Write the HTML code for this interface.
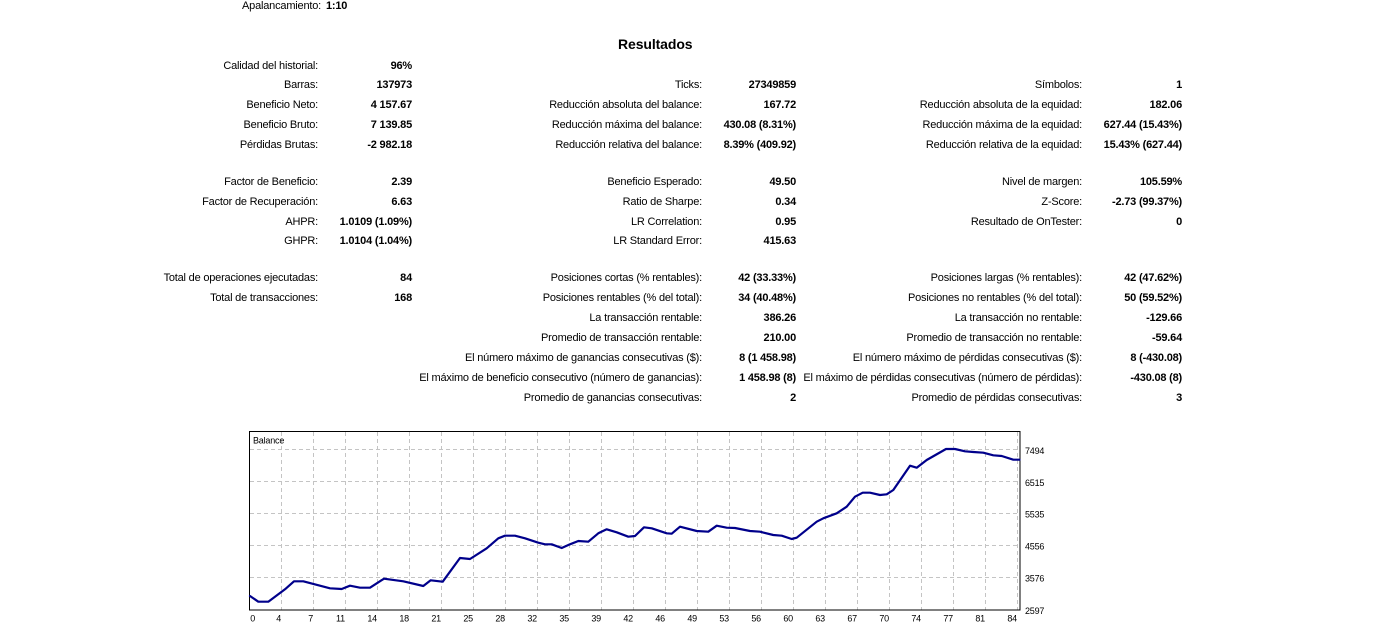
<!DOCTYPE html>
<html>
<head>
<meta charset="utf-8">
<style>
  html,body{margin:0;padding:0;background:#fff;}
  body{width:1392px;height:637px;position:relative;overflow:hidden;
       font-family:"Liberation Sans",Arial,sans-serif;font-size:11px;color:#000;letter-spacing:-0.2px;}
  .l,.v{position:absolute;white-space:nowrap;line-height:13px;}
  .v{font-weight:bold;}
  .h{position:absolute;font-weight:bold;font-size:14px;line-height:16px;white-space:nowrap;letter-spacing:-0.1px;}
  svg{position:absolute;left:0;top:0;}
</style>
</head>
<body>

<div class="l" style="right:1071px;top:0px">Apalancamiento:</div>
<div class="v" style="left:326px;top:0px">1:10</div>

<div class="h" style="left:618px;top:36px">Resultados</div>

<!-- row 65 -->
<div class="l" style="right:1074px;top:59.6px">Calidad del historial:</div>
<div class="v" style="right:980px;top:59.6px">96%</div>

<!-- row 84 -->
<div class="l" style="right:1074px;top:78.6px">Barras:</div>
<div class="v" style="right:980px;top:78.6px">137973</div>
<div class="l" style="right:690px;top:78.6px">Ticks:</div>
<div class="v" style="right:596px;top:78.6px">27349859</div>
<div class="l" style="right:310px;top:78.6px">Símbolos:</div>
<div class="v" style="right:210px;top:78.6px">1</div>

<!-- row 104 -->
<div class="l" style="right:1074px;top:98.6px">Beneficio Neto:</div>
<div class="v" style="right:980px;top:98.6px">4 157.67</div>
<div class="l" style="right:690px;top:98.6px">Reducción absoluta del balance:</div>
<div class="v" style="right:596px;top:98.6px">167.72</div>
<div class="l" style="right:310px;top:98.6px">Reducción absoluta de la equidad:</div>
<div class="v" style="right:210px;top:98.6px">182.06</div>

<!-- row 124 -->
<div class="l" style="right:1074px;top:118.6px">Beneficio Bruto:</div>
<div class="v" style="right:980px;top:118.6px">7 139.85</div>
<div class="l" style="right:690px;top:118.6px">Reducción máxima del balance:</div>
<div class="v" style="right:596px;top:118.6px">430.08 (8.31%)</div>
<div class="l" style="right:310px;top:118.6px">Reducción máxima de la equidad:</div>
<div class="v" style="right:210px;top:118.6px">627.44 (15.43%)</div>

<!-- row 144 -->
<div class="l" style="right:1074px;top:138.6px">Pérdidas Brutas:</div>
<div class="v" style="right:980px;top:138.6px">-2 982.18</div>
<div class="l" style="right:690px;top:138.6px">Reducción relativa del balance:</div>
<div class="v" style="right:596px;top:138.6px">8.39% (409.92)</div>
<div class="l" style="right:310px;top:138.6px">Reducción relativa de la equidad:</div>
<div class="v" style="right:210px;top:138.6px">15.43% (627.44)</div>

<!-- row 181 -->
<div class="l" style="right:1074px;top:175.6px">Factor de Beneficio:</div>
<div class="v" style="right:980px;top:175.6px">2.39</div>
<div class="l" style="right:690px;top:175.6px">Beneficio Esperado:</div>
<div class="v" style="right:596px;top:175.6px">49.50</div>
<div class="l" style="right:310px;top:175.6px">Nivel de margen:</div>
<div class="v" style="right:210px;top:175.6px">105.59%</div>

<!-- row 201 -->
<div class="l" style="right:1074px;top:195.6px">Factor de Recuperación:</div>
<div class="v" style="right:980px;top:195.6px">6.63</div>
<div class="l" style="right:690px;top:195.6px">Ratio de Sharpe:</div>
<div class="v" style="right:596px;top:195.6px">0.34</div>
<div class="l" style="right:310px;top:195.6px">Z-Score:</div>
<div class="v" style="right:210px;top:195.6px">-2.73 (99.37%)</div>

<!-- row 221 -->
<div class="l" style="right:1074px;top:215.6px">AHPR:</div>
<div class="v" style="right:980px;top:215.6px">1.0109 (1.09%)</div>
<div class="l" style="right:690px;top:215.6px">LR Correlation:</div>
<div class="v" style="right:596px;top:215.6px">0.95</div>
<div class="l" style="right:310px;top:215.6px">Resultado de OnTester:</div>
<div class="v" style="right:210px;top:215.6px">0</div>

<!-- row 240 -->
<div class="l" style="right:1074px;top:234.6px">GHPR:</div>
<div class="v" style="right:980px;top:234.6px">1.0104 (1.04%)</div>
<div class="l" style="right:690px;top:234.6px">LR Standard Error:</div>
<div class="v" style="right:596px;top:234.6px">415.63</div>

<!-- row 277 -->
<div class="l" style="right:1074px;top:271.6px">Total de operaciones ejecutadas:</div>
<div class="v" style="right:980px;top:271.6px">84</div>
<div class="l" style="right:690px;top:271.6px">Posiciones cortas (% rentables):</div>
<div class="v" style="right:596px;top:271.6px">42 (33.33%)</div>
<div class="l" style="right:310px;top:271.6px">Posiciones largas (% rentables):</div>
<div class="v" style="right:210px;top:271.6px">42 (47.62%)</div>

<!-- row 297 -->
<div class="l" style="right:1074px;top:291.6px">Total de transacciones:</div>
<div class="v" style="right:980px;top:291.6px">168</div>
<div class="l" style="right:690px;top:291.6px">Posiciones rentables (% del total):</div>
<div class="v" style="right:596px;top:291.6px">34 (40.48%)</div>
<div class="l" style="right:310px;top:291.6px">Posiciones no rentables (% del total):</div>
<div class="v" style="right:210px;top:291.6px">50 (59.52%)</div>

<!-- row 317 -->
<div class="l" style="right:690px;top:311.6px">La transacción rentable:</div>
<div class="v" style="right:596px;top:311.6px">386.26</div>
<div class="l" style="right:310px;top:311.6px">La transacción no rentable:</div>
<div class="v" style="right:210px;top:311.6px">-129.66</div>

<!-- row 337 -->
<div class="l" style="right:690px;top:331.6px">Promedio de transacción rentable:</div>
<div class="v" style="right:596px;top:331.6px">210.00</div>
<div class="l" style="right:310px;top:331.6px">Promedio de transacción no rentable:</div>
<div class="v" style="right:210px;top:331.6px">-59.64</div>

<!-- row 357 -->
<div class="l" style="right:690px;top:351.6px">El número máximo de ganancias consecutivas ($):</div>
<div class="v" style="right:596px;top:351.6px">8 (1 458.98)</div>
<div class="l" style="right:310px;top:351.6px">El número máximo de pérdidas consecutivas ($):</div>
<div class="v" style="right:210px;top:351.6px">8 (-430.08)</div>

<!-- row 377 -->
<div class="l" style="right:690px;top:371.6px">El máximo de beneficio consecutivo (número de ganancias):</div>
<div class="v" style="right:596px;top:371.6px">1 458.98 (8)</div>
<div class="l" style="right:310px;top:371.6px">El máximo de pérdidas consecutivas (número de pérdidas):</div>
<div class="v" style="right:210px;top:371.6px">-430.08 (8)</div>

<!-- row 397 -->
<div class="l" style="right:690px;top:391.6px">Promedio de ganancias consecutivas:</div>
<div class="v" style="right:596px;top:391.6px">2</div>
<div class="l" style="right:310px;top:391.6px">Promedio de pérdidas consecutivas:</div>
<div class="v" style="right:210px;top:391.6px">3</div>

<svg width="1392" height="637" viewBox="0 0 1392 637" xmlns="http://www.w3.org/2000/svg">
  <g stroke="#c4c4c4" stroke-width="1" stroke-dasharray="4,3" fill="none">
    <line x1="250" y1="449.5" x2="1020" y2="449.5"/>
    <line x1="250" y1="481.5" x2="1020" y2="481.5"/>
    <line x1="250" y1="513.5" x2="1020" y2="513.5"/>
    <line x1="250" y1="545.5" x2="1020" y2="545.5"/>
    <line x1="250" y1="577.5" x2="1020" y2="577.5"/>
    <line x1="281.5" y1="432" x2="281.5" y2="610"/>
    <line x1="313.5" y1="432" x2="313.5" y2="610"/>
    <line x1="345.5" y1="432" x2="345.5" y2="610"/>
    <line x1="377.5" y1="432" x2="377.5" y2="610"/>
    <line x1="409.5" y1="432" x2="409.5" y2="610"/>
    <line x1="441.5" y1="432" x2="441.5" y2="610"/>
    <line x1="473.5" y1="432" x2="473.5" y2="610"/>
    <line x1="505.5" y1="432" x2="505.5" y2="610"/>
    <line x1="537.5" y1="432" x2="537.5" y2="610"/>
    <line x1="569.5" y1="432" x2="569.5" y2="610"/>
    <line x1="601.5" y1="432" x2="601.5" y2="610"/>
    <line x1="633.5" y1="432" x2="633.5" y2="610"/>
    <line x1="665.5" y1="432" x2="665.5" y2="610"/>
    <line x1="697.5" y1="432" x2="697.5" y2="610"/>
    <line x1="729.5" y1="432" x2="729.5" y2="610"/>
    <line x1="761.5" y1="432" x2="761.5" y2="610"/>
    <line x1="793.5" y1="432" x2="793.5" y2="610"/>
    <line x1="825.5" y1="432" x2="825.5" y2="610"/>
    <line x1="857.5" y1="432" x2="857.5" y2="610"/>
    <line x1="889.5" y1="432" x2="889.5" y2="610"/>
    <line x1="921.5" y1="432" x2="921.5" y2="610"/>
    <line x1="953.5" y1="432" x2="953.5" y2="610"/>
    <line x1="985.5" y1="432" x2="985.5" y2="610"/>
    <line x1="1017.5" y1="432" x2="1017.5" y2="610"/>
  </g>
  <rect x="249.5" y="431.5" width="770.5" height="178.5" fill="none" stroke="#000" stroke-width="1"/>
  <polyline fill="none" stroke="#00008b" stroke-width="2.2" stroke-linejoin="round" stroke-linecap="round"
    points="250,596 258.3,601.7 268.3,601.7 285,589.3 294,581.3 303.3,581.3 330,588.3 341.7,589 350,585.7 360,587.7 370,587.7 384,578.7 403.3,581.3 423.3,586 430.7,580.3 442.7,581.7 460,558 470,559 486.7,548.3 498.3,538.3 505,535.7 515,535.7 525,538.3 538.3,542.7 545,544.3 551.7,544.3 561.7,548 570,544.3 578.3,541 588.3,541.7 598.3,533.3 606.7,529.3 616.7,532.3 628.3,536.7 635,536 644,527.3 651.7,528.3 666.7,533.3 671.7,533.7 680,526.7 696.7,531 708.3,531.7 716.7,525.7 726.7,527.7 735,528 750,531 760,531.7 773.3,535 781.7,535.7 791.7,539 796.7,537.7 816.7,521.7 823.3,518.3 836.7,513.3 846.7,506.7 855,496.7 862.7,492.7 870,492.7 880,495 886.7,494.3 893.3,490 910,465.7 916.7,467.7 926.7,460 946,449 955,449 965,451.3 973.3,452 983.3,452.7 993.3,455.3 1001.7,456 1013.3,459.7 1019.5,459.7"/>
  <text x="253" y="443.3" font-family="Liberation Sans, Arial, sans-serif" font-size="9" fill="#000">Balance</text>
  <g font-family="Liberation Sans, Arial, sans-serif" font-size="9" fill="#000">
    <text x="1025" y="453.8">7494</text>
    <text x="1025" y="485.8">6515</text>
    <text x="1025" y="517.3">5535</text>
    <text x="1025" y="549.3">4556</text>
    <text x="1025" y="581.3">3576</text>
    <text x="1025" y="613.8">2597</text>
  </g>
  <g font-family="Liberation Sans, Arial, sans-serif" font-size="9" fill="#000" text-anchor="end">
    <text x="255" y="621.3">0</text>
    <text x="281" y="621.3">4</text>
    <text x="313" y="621.3">7</text>
    <text x="345" y="621.3">11</text>
    <text x="377" y="621.3">14</text>
    <text x="409" y="621.3">18</text>
    <text x="441" y="621.3">21</text>
    <text x="473" y="621.3">25</text>
    <text x="505" y="621.3">28</text>
    <text x="537" y="621.3">32</text>
    <text x="569" y="621.3">35</text>
    <text x="601" y="621.3">39</text>
    <text x="633" y="621.3">42</text>
    <text x="665" y="621.3">46</text>
    <text x="697" y="621.3">49</text>
    <text x="729" y="621.3">53</text>
    <text x="761" y="621.3">56</text>
    <text x="793" y="621.3">60</text>
    <text x="825" y="621.3">63</text>
    <text x="857" y="621.3">67</text>
    <text x="889" y="621.3">70</text>
    <text x="921" y="621.3">74</text>
    <text x="953" y="621.3">77</text>
    <text x="985" y="621.3">81</text>
    <text x="1017" y="621.3">84</text>
  </g>
</svg>

</body>
</html>
